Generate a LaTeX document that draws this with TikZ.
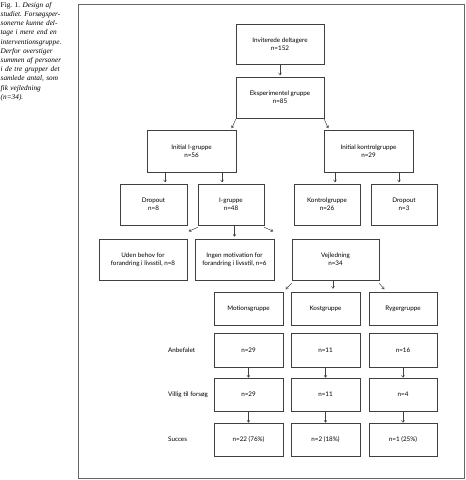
\documentclass[tikz,border=0pt]{standalone}
\usepackage{fontspec}
\setmainfont{Liberation Serif}
\newfontfamily\boxfont{Lato}
\usetikzlibrary{arrows.meta}
\frenchspacing
\begin{document}
\begin{tikzpicture}[x=1pt,y=-1pt,
  box/.style 2 args={draw=black!75, line width=0.6pt, minimum width=#1pt, minimum height=#2pt,
    inner sep=0pt, align=center, font=\boxfont\fontsize{6.3}{8.3}\selectfont},
  arr/.style={draw=black!75, line width=0.5pt, -{Straight Barb[length=2pt,width=3pt]}},
  rowlab/.style={anchor=west, inner sep=0pt, font=\boxfont\fontsize{6.3}{8.3}\selectfont},
  frame/.style={draw=black!60, line width=1pt}]
\useasboundingbox (0,0) rectangle (466,480);
\draw[frame] (78,4.5) rectangle (464,478.5);
\node[anchor=north west, inner sep=0pt, text width=85pt, align=left,
  font=\fontsize{7.3}{9.2}\selectfont] (cap) at (0.5,2)
  {Fig. 1. \textit{Design af}\\
   \textit{studiet. Forsøgsper-}\\
   \textit{sonerne kunne del-}\\
   \textit{tage i mere end en}\\
   \textit{interventionsgruppe.}\\
   \textit{Derfor overstiger}\\
   \textit{summen af personer}\\
   \textit{i de tre grupper det}\\
   \textit{samlede antal, som}\\
   \textit{fik vejledning}\\
   \textit{(n=34).}};
% boxes
\node[box={88}{40}] (inv) at (280,44) {Inviterede deltagere\\n=152};
\node[box={88}{41}] (eks) at (280,97.5) {Eksperimentel gruppe\\n=85};
\node[box={89}{42}] (ii) at (191.5,151) {Initial I-gruppe\\n=56};
\node[box={89}{42}] (ik) at (368.5,151) {Initial kontrolgruppe\\n=29};
\node[box={67}{41}] (d8) at (153.5,204.5) {Dropout\\n=8};
\node[box={66}{41}] (ig) at (231,204.5) {I-gruppe\\n=48};
\node[box={66}{41}] (kg) at (327,204.5) {Kontrolgruppe\\n=26};
\node[box={66}{41}] (d3) at (404,204.5) {Dropout\\n=3};
\node[box={88}{41}] (ub) at (143,259.5) {Uden behov for\\forandring i livsstil, n=8};
\node[box={79}{41}] (im) at (234.5,259.5) {Ingen motivation for\\forandring i livsstil, n=6};
\node[box={87}{41}] (vj) at (335.5,259.5) {Vejledning\\n=34};
\node[box={69}{33}] (mo) at (248.5,308.5) {Motionsgruppe};
\node[box={69}{33}] (ko) at (325.5,308.5) {Kostgruppe};
\node[box={68}{33}] (ry) at (403,308.5) {Rygergruppe};
\node[box={69}{34}] (a1) at (248.5,350) {n=29};
\node[box={69}{34}] (a2) at (325.5,350) {n=11};
\node[box={68}{34}] (a3) at (403,350) {n=16};
\node[box={69}{33}] (v1) at (248.5,394.5) {n=29};
\node[box={69}{33}] (v2) at (325.5,394.5) {n=11};
\node[box={68}{33}] (v3) at (403,394.5) {n=4};
\node[box={69}{33}] (s1) at (248.5,439.5) {n=22 (76\%)};
\node[box={69}{33}] (s2) at (325.5,439.5) {n=2 (18\%)};
\node[box={68}{33}] (s3) at (403,439.5) {n=1 (25\%)};
% row labels
\node[rowlab] (lab1) at (168,350) {Anbefalet};
\node[rowlab] (lab2) at (168,394.5) {Villig til forsøg};
\node[rowlab] (lab3) at (168,439.5) {Succes};
% arrows
\draw[arr] (inv.south) -- ([yshift=1.5pt]eks.north);
\draw[arr] ([yshift=-1pt]eks.south west) -- ++(-4,9);
\draw[arr] ([yshift=-1pt]eks.south east) -- ++(4,9);
\draw[arr] ([xshift=-26.5pt]ii.south) -- ([xshift=-26.5pt,yshift=1.5pt]ii.south |- d8.north);
\draw[arr] ([xshift=30.5pt]ii.south) -- ([xshift=30.5pt,yshift=1.5pt]ii.south |- ig.north);
\draw[arr] ([xshift=-33.5pt]ik.south) -- ([xshift=-33.5pt,yshift=1.5pt]ik.south |- kg.north);
\draw[arr] ([xshift=30.5pt]ik.south) -- ([xshift=30.5pt,yshift=1.5pt]ik.south |- d3.north);
\draw[arr] ([yshift=-2pt]ig.south west) -- ++(-9,4);
\draw[arr] (im.north |- ig.south) -- ([yshift=2pt]im.north);
\draw[arr] ([yshift=-2pt]ig.south east) -- ++(9,4);
\draw[arr] ([yshift=-3pt]vj.south west) -- ++(-6,6);
\draw[arr] ([xshift=-2.5pt]vj.south) -- ([xshift=-2.5pt,yshift=-8.5pt]vj.south);
\draw[arr] ([yshift=-3pt]vj.south east) -- ++(5,6);
\draw[arr] (a1) -- (v1);
\draw[arr] (a2) -- (v2);
\draw[arr] (a3) -- (v3);
\draw[arr] (v1) -- (s1);
\draw[arr] (v2) -- (s2);
\draw[arr] (v3) -- (s3);
\end{tikzpicture}
\end{document}
